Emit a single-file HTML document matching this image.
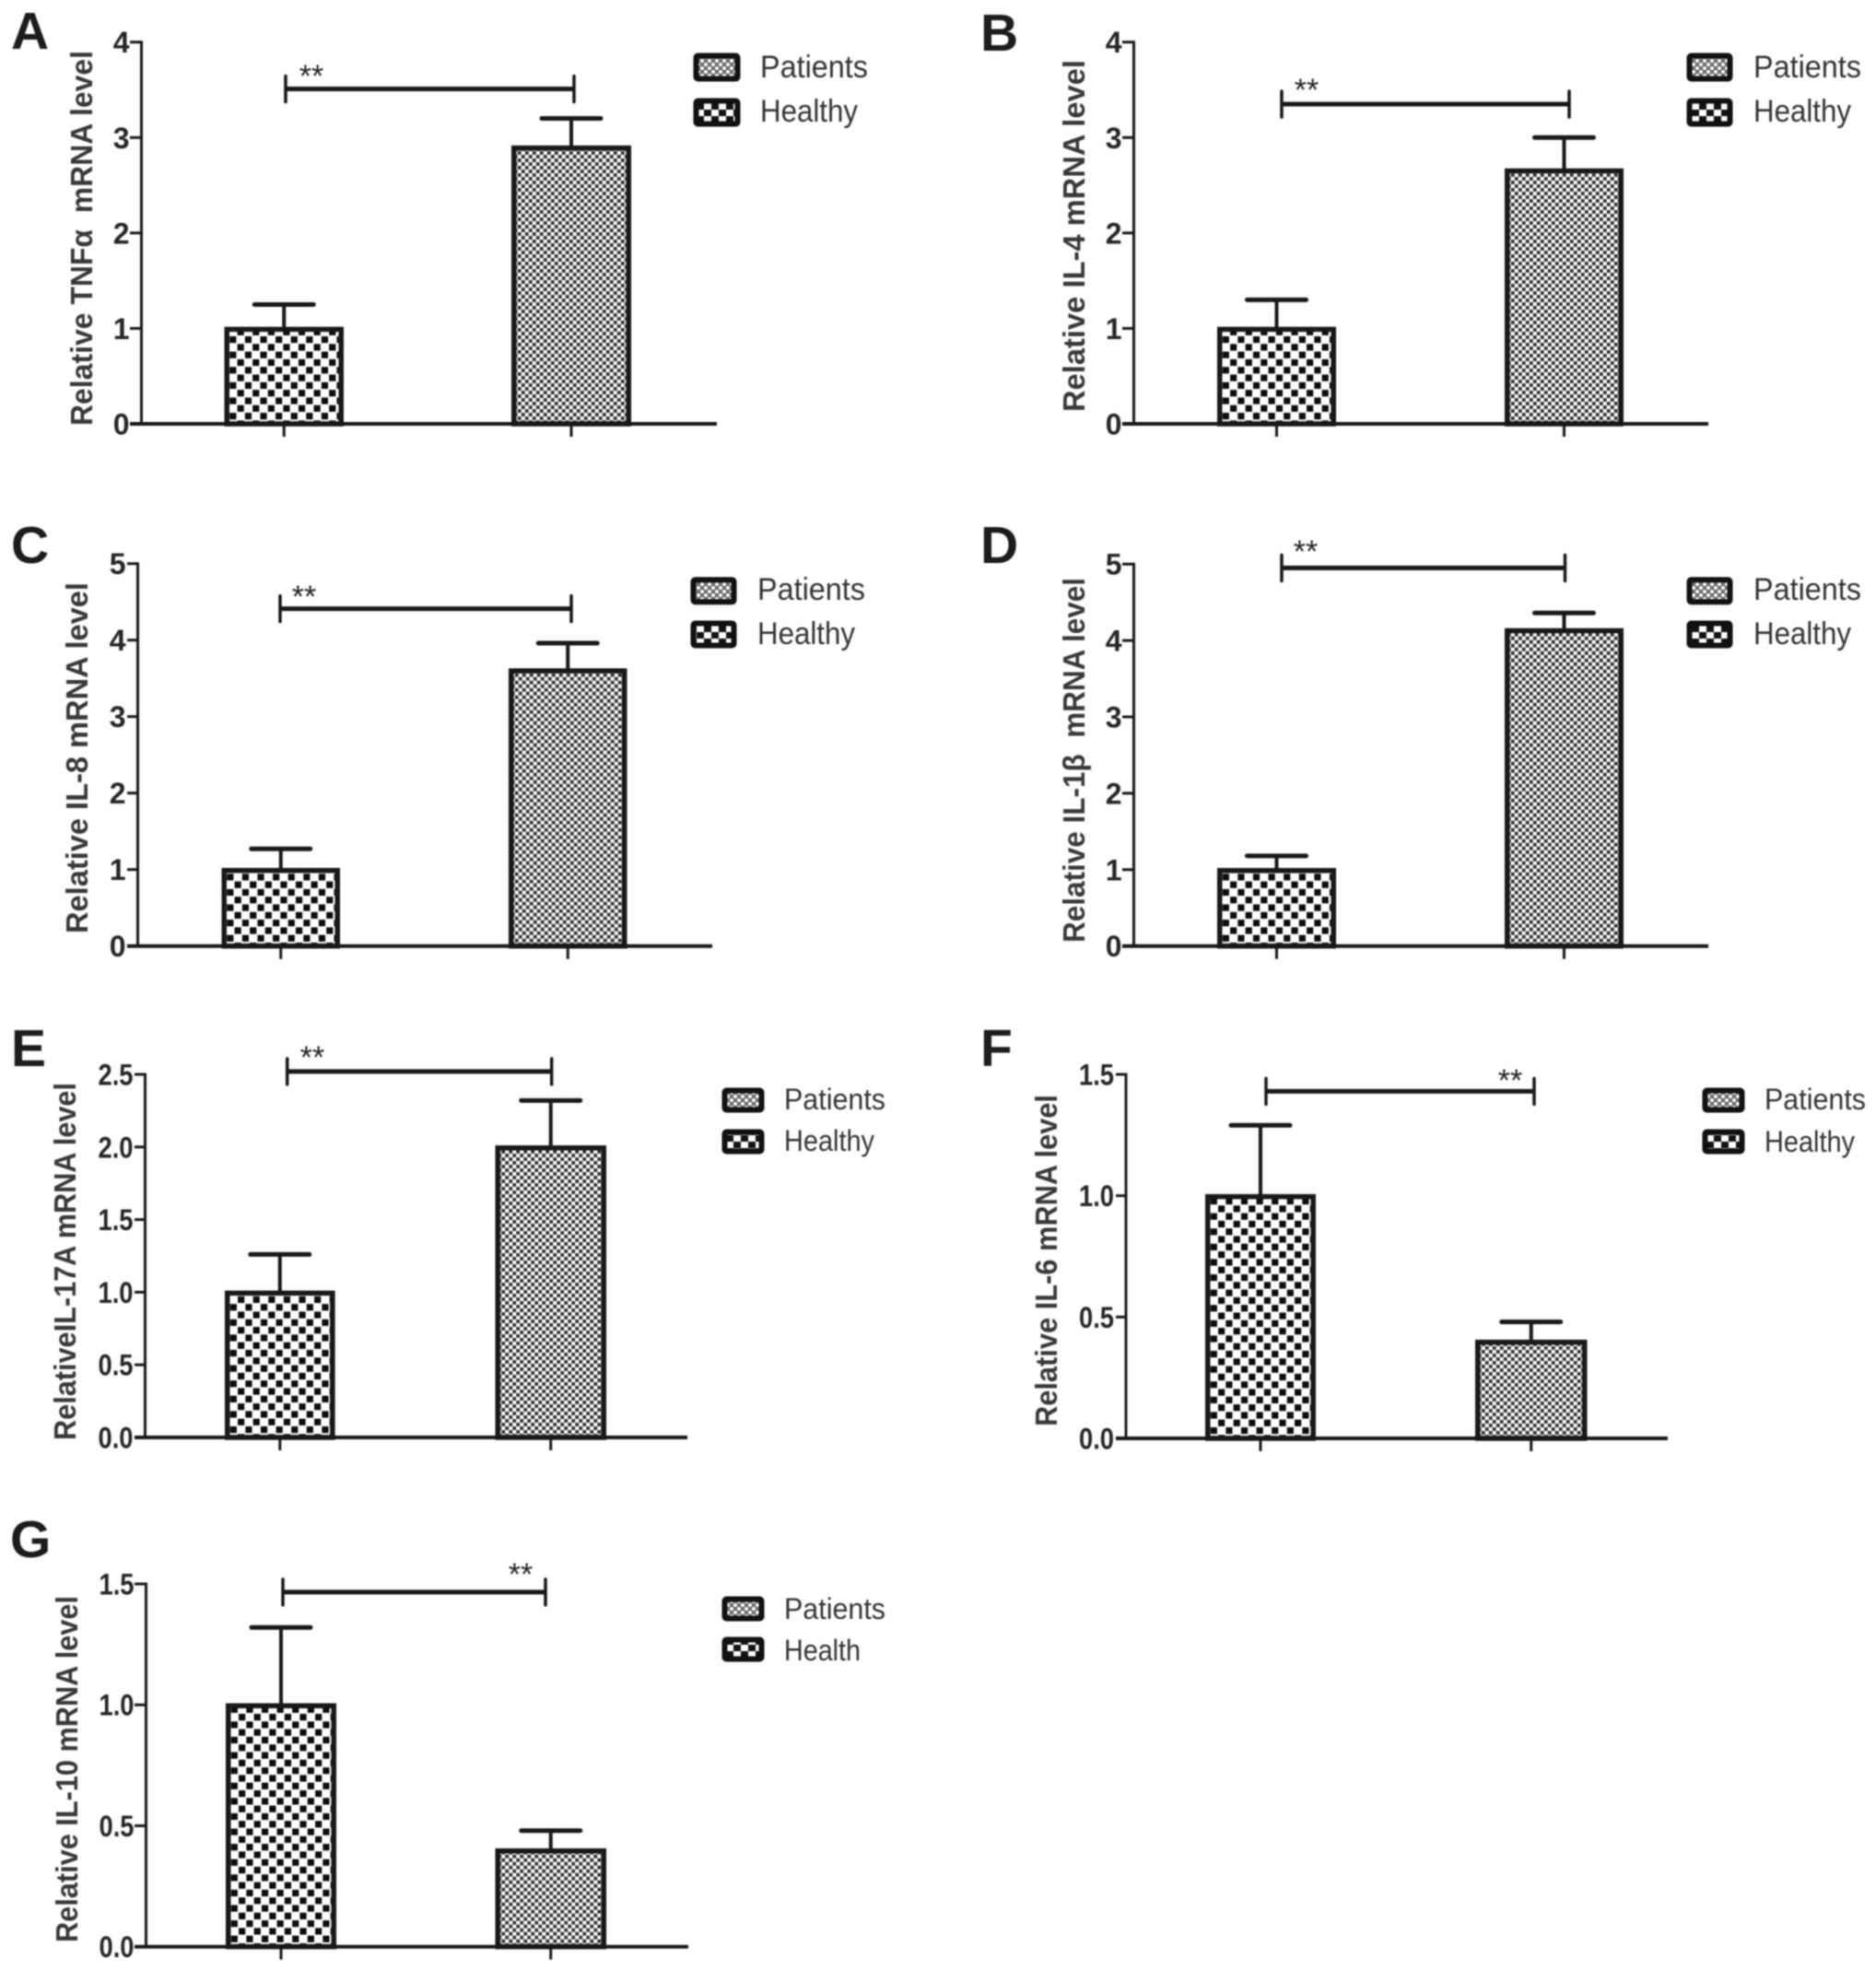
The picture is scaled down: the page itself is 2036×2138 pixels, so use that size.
<!DOCTYPE html>
<html lang="en">
<head>
<meta charset="utf-8">
<title>Relative cytokine mRNA levels</title>
<style>
html,body{margin:0;padding:0;background:#fff;width:2036px;height:2138px;overflow:hidden}
#figure{display:block;filter:blur(0.8px);font-family:"Liberation Sans",Arial,sans-serif}
</style>
</head>
<body>
<svg id="figure" xmlns="http://www.w3.org/2000/svg" width="2036" height="2138" viewBox="0 0 2036 2138">
  <defs>
    <pattern id="healthy-fill" patternUnits="userSpaceOnUse" width="16.6" height="16.6">
      <rect width="16.6" height="16.6" fill="#fff"/>
      <rect x="3" y="4.6" width="7.2" height="7.2" fill="#0c0c0c"/>
      <rect x="11.3" y="12.9" width="7.2" height="7.2" fill="#0c0c0c"/>
      <rect x="11.3" y="-3.7" width="7.2" height="7.2" fill="#0c0c0c"/>
      <rect x="-5.3" y="12.9" width="7.2" height="7.2" fill="#0c0c0c"/>
      <rect x="-5.3" y="-3.7" width="7.2" height="7.2" fill="#0c0c0c"/>
    </pattern>
    <pattern id="patient-fill" patternUnits="userSpaceOnUse" width="8" height="8">
      <rect width="8" height="8" fill="#868686"/>
      <circle cx="2" cy="2" r="2" fill="#fff"/>
      <circle cx="6" cy="6" r="2" fill="#fff"/>
      <circle cx="6" cy="2" r="1.5" fill="#111"/>
      <circle cx="2" cy="6" r="1.5" fill="#111"/>
    </pattern>
    <pattern id="legend-healthy-fill" patternUnits="userSpaceOnUse" width="16" height="14">
      <rect width="16" height="14" fill="#fff"/>
      <rect x="4" y="0" width="8" height="7" fill="#111"/>
      <rect x="12" y="7" width="8" height="7" fill="#111"/>
      <rect x="-4" y="7" width="8" height="7" fill="#111"/>
    </pattern>
    <pattern id="legend-patient-fill" patternUnits="userSpaceOnUse" width="8" height="8">
      <rect width="8" height="8" fill="#6a6a6a"/>
      <circle cx="2" cy="2" r="2" fill="#fff"/>
      <circle cx="6" cy="6" r="2" fill="#fff"/>
    </pattern>
  </defs>
  <rect width="2036" height="2138" fill="#fff"/>
</svg>
<script>
// ---- chart data ----
const panelLetters = ['A', 'B', 'C', 'D', 'E', 'F', 'G'];
const yAxisTitles = [
  'Relative TNF\u03B1  mRNA level',
  'Relative IL-4 mRNA level',
  'Relative IL-8 mRNA level',
  'Relative IL-1\u03B2  mRNA level',
  'RelativeIL-17A mRNA level',
  'Relative IL-6 mRNA level',
  'Relative IL-10 mRNA level'
];
const healthyValues = [1.0, 1.0, 1.0, 1.0, 1.0, 1.0, 1.0];
const healthyErrors = [0.25, 0.30, 0.27, 0.18, 0.26, 0.29, 0.32];
const patientValues = [2.9, 2.66, 3.61, 4.14, 2.0, 0.40, 0.40];
const patientErrors = [0.30, 0.34, 0.35, 0.22, 0.32, 0.08, 0.08];
const yMaximums = [4, 4, 5, 5, 2.5, 1.5, 1.5];
const tickLabelsA = ['0', '1', '2', '3', '4'];
const tickLabelsB = ['0', '1', '2', '3', '4'];
const tickLabelsC = ['0', '1', '2', '3', '4', '5'];
const tickLabelsD = ['0', '1', '2', '3', '4', '5'];
const tickLabelsE = ['0.0', '0.5', '1.0', '1.5', '2.0', '2.5'];
const tickLabelsF = ['0.0', '0.5', '1.0', '1.5'];
const tickLabelsG = ['0.0', '0.5', '1.0', '1.5'];
const panelTickLabels = [tickLabelsA, tickLabelsB, tickLabelsC, tickLabelsD, tickLabelsE, tickLabelsF, tickLabelsG];
const bracketLevels = [3.51, 3.35, 4.41, 4.95, 2.52, 1.43, 1.466];
const legendFirst = ['Patients', 'Patients', 'Patients', 'Patients', 'Patients', 'Patients', 'Patients'];
const legendSecond = ['Healthy', 'Healthy', 'Healthy', 'Healthy', 'Healthy', 'Healthy', 'Health'];

// ---- panel geometry (frames only, no data) ----
const frames = [
  {ax:153.5,top:45.7,base:460,xs:141,xe:778,b1:[243.5,373],b2:[555,685],br:[310,623],star:[338,75],tx:100,tt:[462,55],lab:[12,53],
   lg:{x:753,w:50,y1:58,y2:107,h:30,tx:825,t1:84,t2:132,l1:117,l2:106,fs:34}},
  {ax:1230.5,top:45.7,base:460,xs:1218,xe:1854,b1:[1321,1450],b2:[1633,1762],br:[1391,1703],star:[1418,90],tx:1177,tt:[447,65],lab:[1064,55],
   lg:{x:1831,w:49,y1:58,y2:107,h:30,tx:1903,t1:84,t2:132,l1:117,l2:106,fs:34}},
  {ax:149.5,top:611.7,base:1026.7,xs:138,xe:773,b1:[240.5,369],b2:[552,680.5],br:[304,620],star:[330,640],tx:95,tt:[1013,632],lab:[12,611],
   lg:{x:750,w:49,y1:626.7,y2:674,h:29,tx:822,t1:651,t2:699,l1:117,l2:106,fs:34}},
  {ax:1230.5,top:612.2,base:1026.7,xs:1218,xe:1854,b1:[1321,1450],b2:[1633,1762],br:[1391,1698.5],star:[1417,591],tx:1177,tt:[1023,627],lab:[1064,611],
   lg:{x:1831,w:49,y1:626.7,y2:674,h:29,tx:1903,t1:651,t2:699,l1:117,l2:106,fs:34}},
  {ax:157.5,top:1166,base:1560,xs:146,xe:746,b1:[244,363.6],b2:[537.5,658],br:[311.7,598.7],star:[339,1140],tx:82,tt:[1563,1175],lab:[12,1157],
   lg:{x:784,w:45,y1:1181,y2:1226,h:26,tx:851,t1:1204,t2:1249,l1:110,l2:98,fs:32}},
  {ax:1222,top:1166,base:1561,xs:1211,xe:1810,b1:[1308,1428],b2:[1601,1722.5],br:[1374,1665],star:[1639,1165],tx:1147,tt:[1548,1188],lab:[1064,1157],
   lg:{x:1848,w:45,y1:1181,y2:1226,h:26,tx:1915,t1:1204,t2:1250,l1:110,l2:98,fs:32}},
  {ax:158.5,top:1719,base:2112.7,xs:146,xe:747,b1:[245,365],b2:[537.5,658],br:[307,592],star:[565,1701],tx:84,tt:[2108,1732],lab:[11,1690],
   lg:{x:784,w:45,y1:1733,y2:1777,h:26,tx:851,t1:1757,t2:1802,l1:110,l2:83,fs:32}}
];

const SVG_NS = 'http://www.w3.org/2000/svg';
const INK = '#181818';
const TEXT_INK = '#262626';
const root = document.getElementById('figure');

function make(parent, tag, props) {
  const node = document.createElementNS(SVG_NS, tag);
  for (const key in props) node.setAttribute(key, props[key]);
  parent.appendChild(node);
  return node;
}

function yScale(frame, maxValue) {
  return function (v) { return frame.base - (v / maxValue) * (frame.base - frame.top); };
}

function drawBar(group, f, y, range, value, error, fillId, seriesName) {
  const cx = (range[0] + range[1]) / 2;
  const inset = 2.75;
  const top = y(value) + 1;
  const capY = y(value + error);

  const stem = make(group, 'line', {x1: cx, x2: cx, y1: top, y2: capY, stroke: INK, 'stroke-width': 4});
  
  

  const cap = make(group, 'line', {x1: cx - 32, x2: cx + 32, y1: capY, y2: capY, stroke: INK, 'stroke-width': 5, 'stroke-linecap': 'round'});
  
  

  const fillHeight = f.base - top;
  const barLeft = range[0] + inset;
  const barWidth = range[1] - range[0] - inset * 2;
  const bar = make(group, 'rect', {
    x: 0, y: -fillHeight, width: barWidth, height: fillHeight,
    transform: 'translate(' + barLeft + ',' + f.base + ')',
    fill: 'url(#' + fillId + ')', stroke: INK, 'stroke-width': 5.5
  });
  
  
}

panelLetters.forEach(function (letter, i) {
  const f = frames[i];
  const y = yScale(f, yMaximums[i]);
  const key = letter.toLowerCase();

  const group = make(root, 'g', {});
  
  

  const panelLabel = make(group, 'text', {x: f.lab[0], y: f.lab[1], 'font-size': 57, 'font-weight': 'bold', fill: '#1c1c1c'});
  panelLabel.textContent = letter;
  
  

  const bx = f.tx, by = f.tt[0];
  const title = make(group, 'text', {
    x: 0, y: 0, transform: 'translate(' + bx + ',' + by + ') rotate(-90)',
    'font-size': 33, 'font-weight': 'bold', fill: '#383838',
    textLength: f.tt[0] - f.tt[1], lengthAdjust: 'spacingAndGlyphs', 'xml:space': 'preserve'
  });
  title.style.whiteSpace = 'pre';
  title.textContent = yAxisTitles[i];
  
  

  // series
  drawBar(group, f, y, f.b1, healthyValues[i], healthyErrors[i], 'healthy-fill', 'healthy');
  drawBar(group, f, y, f.b2, patientValues[i], patientErrors[i], 'patient-fill', 'patients');

  // axes
  const yAxis = make(group, 'line', {x1: f.ax, x2: f.ax, y1: f.top - 1.5, y2: f.base, stroke: INK, 'stroke-width': 3});
  
  

  const xAxis = make(group, 'line', {x1: f.xs, x2: f.xe, y1: f.base, y2: f.base, stroke: INK, 'stroke-width': 4});
  
  

  panelTickLabels[i].forEach(function (label) {
    const value = parseFloat(label);
    const ty = y(value);

    const tick = make(group, 'line', {x1: f.xs, x2: f.ax, y1: ty, y2: ty, stroke: INK, 'stroke-width': 3});
    
    

    const props = {x: f.ax - 13, y: ty + 11.5, 'font-size': 32, 'font-weight': 'bold', fill: TEXT_INK, 'text-anchor': 'end'};
    if (label.length > 1) {
      props.textLength = 38;
      props.lengthAdjust = 'spacingAndGlyphs';
    }
    const tickText = make(group, 'text', props);
    tickText.textContent = label;
    
    
  });

  [f.b1, f.b2].forEach(function (range) {
    const cx = (range[0] + range[1]) / 2;
    const xTick = make(group, 'line', {x1: cx, x2: cx, y1: f.base, y2: f.base + 14, stroke: INK, 'stroke-width': 3});
    
    
  });

  // significance bracket
  const brY = y(bracketLevels[i]);
  const brLine = make(group, 'line', {x1: f.br[0], x2: f.br[1], y1: brY, y2: brY, stroke: INK, 'stroke-width': 5});
  
  

  const brLeft = make(group, 'line', {x1: f.br[0], x2: f.br[0], y1: brY - 14, y2: brY + 14, stroke: INK, 'stroke-width': 3.5, 'stroke-linecap': 'round'});
  
  

  const brRight = make(group, 'line', {x1: f.br[1], x2: f.br[1], y1: brY - 14, y2: brY + 14, stroke: INK, 'stroke-width': 3.5, 'stroke-linecap': 'round'});
  
  

  const stars = make(group, 'text', {x: f.star[0], y: f.star[1] + 19, 'font-size': 34, 'font-weight': 'normal', fill: '#222', 'text-anchor': 'middle'});
  stars.textContent = '**';
  
  

  // legend
  const lg = f.lg;
  const legend = make(group, 'g', {});
  
  

  const swatchA = make(legend, 'rect', {x: lg.x + 2.5, y: lg.y1 + 2.5, width: lg.w - 5, height: lg.h - 5, rx: 2, fill: 'url(#legend-patient-fill)', stroke: '#111', 'stroke-width': 6});
  
  

  const labelA = make(legend, 'text', {x: lg.tx, y: lg.t1, 'font-size': lg.fs, fill: '#333', textLength: lg.l1, lengthAdjust: 'spacingAndGlyphs'});
  labelA.textContent = legendFirst[i];
  
  

  const swatchB = make(legend, 'rect', {x: lg.x + 2.5, y: lg.y2 + 2.5, width: lg.w - 5, height: lg.h - 5, rx: 2, fill: 'url(#legend-healthy-fill)', stroke: '#111', 'stroke-width': 6});
  
  

  const labelB = make(legend, 'text', {x: lg.tx, y: lg.t2, 'font-size': lg.fs, fill: '#333', textLength: lg.l2, lengthAdjust: 'spacingAndGlyphs'});
  labelB.textContent = legendSecond[i];
  
  
});
</script>
</body>
</html>
